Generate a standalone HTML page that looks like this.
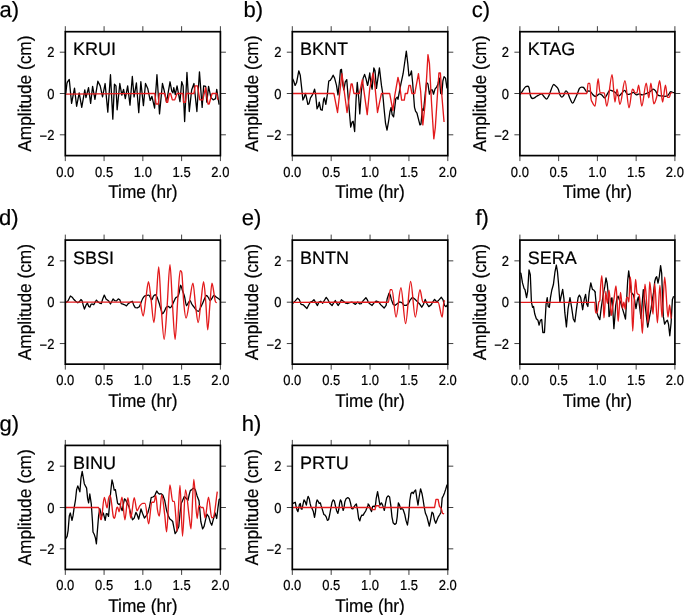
<!DOCTYPE html><html><head><meta charset="utf-8"><style>html,body{margin:0;padding:0;background:#fff;}svg{display:block;will-change:transform;}text{font-family:"Liberation Sans",sans-serif;fill:#000;text-rendering:geometricPrecision;stroke:#000;stroke-width:0.2px;}</style></head><body>
<svg width="685" height="615" viewBox="0 0 685 615">
<g><rect width="685" height="615" fill="#fff"/>
<g><clipPath id="ca"><rect x="65.3" y="31.7" width="155.1" height="123.9"/></clipPath><path clip-path="url(#ca)" d="M65.75 93.45 L66.92 83.52 L67.5 81.77 L69.26 79.43 L71.59 103.38 L74.51 88.19 L76.61 106.3 L79.18 92.87 L81.75 107.46 L84.79 89.95 L85.96 97.54 L88.53 87.61 L90.63 103.38 L92.61 86.44 L94.95 99.29 L97.87 81.19 L100.2 85.86 L102.54 96.95 L105.11 83.52 L107.8 112.14 L110.48 74.76 L112.82 119.14 L114.45 84.11 L115.97 85.86 L117.14 109.8 L119.82 83.52 L121.81 95.2 L123.56 89.36 L125.31 98.7 L127.65 85.86 L129.99 105.13 L132.32 76.52 L134.07 96.95 L136.41 82.94 L138.74 112.72 L140.85 81.77 L143.42 105.71 L145.5 83.52 L147.84 88.78 L150.18 100.46 L151.93 96.37 L154.61 108.05 L156.95 74.76 L159.52 113.89 L162.44 83.52 L164.19 90.53 L166.53 102.21 L170.03 81.77 L171.78 91.11 L172.95 92.87 L173.77 87.61 L175.28 94.62 L177.04 85.86 L178.44 93.45 L179.96 101.62 L181.71 81.77 L183.11 85.86 L184.63 121.48 L186.96 72.43 L189.3 111.55 L191.64 89.95 L193.97 83.52 L196.89 111.55 L199.46 71.84 L202.15 107.46 L203.66 85.86 L205.65 86.44 L206.82 102.21 L208.57 86.44 L210.91 97.54 L213.24 99.87 L215.58 98.7 L216.74 89.36 L219.08 104.54" fill="none" stroke="#000" stroke-width="1.3" stroke-linejoin="round"/><path clip-path="url(#ca)" d="M65.2 94.14 L154.85 93.45 L156.01 103.96 L158.35 103.96 L159.28 93.45 L164.77 93.45 L166.53 102.21 L167.69 102.21 L169.45 93.45 L170.61 93.45 L172.36 99.87 L174.7 99.87 L177.04 93.45 L182.88 93.45 L183.46 102.21 L185.45 102.21 L186.38 93.45 L193.97 93.45 L195.14 85.86 L197.47 85.86 L199.81 99.87 L202.73 99.87 L205.65 87.61 L207.99 103.96 L209.15 103.96 L212.07 93.45 L216.74 93.45 L217.91 99.87" fill="none" stroke="#e31a1c" stroke-width="1.35" stroke-linejoin="round"/><path d="M65.3 31.7V26.2M65.3 155.6V161.1M104.08 31.7V26.2M104.08 155.6V161.1M142.85 31.7V26.2M142.85 155.6V161.1M181.62 31.7V26.2M181.62 155.6V161.1M220.4 31.7V26.2M220.4 155.6V161.1M65.3 134.8H59.8M220.4 134.8H225.9M65.3 93.5H59.8M220.4 93.5H225.9M65.3 52.2H59.8M220.4 52.2H225.9" stroke="#000" stroke-width="0.75" fill="none"/><rect x="65.3" y="31.7" width="155.1" height="123.9" fill="none" stroke="#000" stroke-width="1.7"/><text transform="translate(65.30 176.65) scale(1.000 1.110)" font-size="13.0" text-anchor="middle">0.0</text><text transform="translate(104.08 176.65) scale(1.000 1.110)" font-size="13.0" text-anchor="middle">0.5</text><text transform="translate(142.85 176.65) scale(1.000 1.110)" font-size="13.0" text-anchor="middle">1.0</text><text transform="translate(181.62 176.65) scale(1.000 1.110)" font-size="13.0" text-anchor="middle">1.5</text><text transform="translate(220.40 176.65) scale(1.000 1.110)" font-size="13.0" text-anchor="middle">2.0</text><text transform="translate(54.45 57.20) scale(1.000 1.110)" font-size="13.0" text-anchor="end">2</text><text transform="translate(54.45 98.50) scale(1.000 1.110)" font-size="13.0" text-anchor="end">0</text><text transform="translate(54.45 139.80) scale(1.000 1.110)" font-size="13.0" text-anchor="end"><tspan dy="1.1">−</tspan><tspan dy="-1.1">2</tspan></text><text transform="translate(142.85 198.05) scale(1.000 1.070)" font-size="17.3" text-anchor="middle">Time (hr)</text><text transform="translate(30.90 93.65) rotate(-90) scale(1.000 1.070)" font-size="17.3" text-anchor="middle">Amplitude (cm)</text><text x="73.1" y="55.2" font-size="18.0">KRUI</text><text x="-0.5" y="16.6" font-size="22">a)</text></g>
<g><clipPath id="cb"><rect x="292.3" y="31.7" width="155.5" height="123.9"/></clipPath><path clip-path="url(#cb)" d="M292.63 78.85 L293.66 81.04 L295.12 85.43 L296.58 82.51 L298.78 70.81 L300.24 75.19 L301.7 88.36 L302.87 100.06 L304.33 97.13 L305.36 93.47 L306.38 97.13 L307.84 104.44 L309.01 103.71 L310.48 97.86 L311.94 95.67 L313.4 92.74 L314.57 89.09 L315.59 94.21 L317.06 108.83 L318.52 105.91 L319.25 102.25 L320.71 109.56 L322.18 110.29 L323.64 99.32 L324.37 97.86 L325.83 104.44 L327.29 94.94 L328.76 81.04 L330.22 80.31 L331.68 78.12 L333.14 75.19 L334.61 78.12 L336.51 85.43 L337.97 94.94 L339.43 81.77 L340.46 70.07 L341.48 69.34 L342.94 85.43 L343.82 89.82 L345.28 81.77 L346.75 79.58 L348.5 101.52 L350.69 127.11 L352.16 121.99 L353.18 121.26 L354.64 131.5 L356.11 98.59 L357.28 82.51 L358.74 98.59 L359.76 113.95 L361.37 91.28 L363.13 78.12 L364.59 74.46 L366.05 78.85 L367.51 85.43 L368 83.97 L369.76 73 L370.93 83.97 L372.1 89.09 L373.85 67.88 L375.02 70.81 L376.48 88.36 L379.41 67.88 L381.46 85.43 L382.63 92.74 L384.09 108.83 L385.55 123.46 L387.01 130.04 L388.48 121.99 L389.94 111.76 L391.11 107.37 L392.13 114.68 L393.59 116.87 L395.79 98.59 L397.25 97.13 L397.98 99.32 L399.44 91.28 L400.91 83.97 L403.1 73.73 L404.56 63.49 L406.32 51.06 L407.78 63.49 L408.95 75.92 L410.41 74.46 L411.44 70.81 L412.61 82.51 L414.51 107.37 L415.53 111.02 L416.99 113.22 L418.46 119.07 L419.92 124.92 L420.94 124.19 L422.41 108.83 L423.58 110.29 L425.33 92.74 L426.5 82.51 L427.96 83.97 L429.43 94.21 L430.89 89.82 L432.35 89.82 L433.52 94.21 L434.98 89.09 L436.74 86.89 L437.91 83.97 L439.37 78.12 L440.69 93.47 L441.86 94.21 L442.88 81.04 L444.05 76.66 L445.51 78.12 L446.98 88.36" fill="none" stroke="#000" stroke-width="1.3" stroke-linejoin="round"/><path clip-path="url(#cb)" d="M291.46 93.47 L333.88 93.47 L337.53 112.49 L341.92 73.73 L347.04 112.49 L351.13 83.97 L352.16 83.97 L353.91 93.47 L359.47 93.47 L362.39 79.58 L367.22 114.68 L369.76 88.36 L373.12 73 L375.02 86.89 L377.51 112.49 L379.7 101.52 L381.46 93.47 L389.65 93.47 L392.86 110.29 L394.76 95.67 L397.98 77.39 L399.44 83.97 L401.64 100.06 L404.27 100.06 L405.29 93.47 L407.49 93.47 L408.95 85.43 L410.41 85.43 L411.88 93.47 L414.8 93.47 L418.46 73.73 L420.65 91.28 L422.84 124.92 L425.04 104.44 L427.96 54.72 L429.43 63.49 L431.62 104.44 L433.81 138.81 L435.28 127.84 L437.47 94.21 L438.93 73 L440.39 73 L441.86 95.67 L444.05 121.99" fill="none" stroke="#e31a1c" stroke-width="1.35" stroke-linejoin="round"/><path d="M292.3 31.7V26.2M292.3 155.6V161.1M331.18 31.7V26.2M331.18 155.6V161.1M370.05 31.7V26.2M370.05 155.6V161.1M408.93 31.7V26.2M408.93 155.6V161.1M447.8 31.7V26.2M447.8 155.6V161.1M292.3 134.8H286.8M447.8 134.8H453.3M292.3 93.5H286.8M447.8 93.5H453.3M292.3 52.2H286.8M447.8 52.2H453.3" stroke="#000" stroke-width="0.75" fill="none"/><rect x="292.3" y="31.7" width="155.5" height="123.9" fill="none" stroke="#000" stroke-width="1.7"/><text transform="translate(292.30 176.65) scale(1.000 1.110)" font-size="13.0" text-anchor="middle">0.0</text><text transform="translate(331.18 176.65) scale(1.000 1.110)" font-size="13.0" text-anchor="middle">0.5</text><text transform="translate(370.05 176.65) scale(1.000 1.110)" font-size="13.0" text-anchor="middle">1.0</text><text transform="translate(408.93 176.65) scale(1.000 1.110)" font-size="13.0" text-anchor="middle">1.5</text><text transform="translate(447.80 176.65) scale(1.000 1.110)" font-size="13.0" text-anchor="middle">2.0</text><text transform="translate(281.45 57.20) scale(1.000 1.110)" font-size="13.0" text-anchor="end">2</text><text transform="translate(281.45 98.50) scale(1.000 1.110)" font-size="13.0" text-anchor="end">0</text><text transform="translate(281.45 139.80) scale(1.000 1.110)" font-size="13.0" text-anchor="end"><tspan dy="1.1">−</tspan><tspan dy="-1.1">2</tspan></text><text transform="translate(370.05 198.05) scale(1.000 1.070)" font-size="17.3" text-anchor="middle">Time (hr)</text><text transform="translate(257.90 93.65) rotate(-90) scale(1.000 1.070)" font-size="17.3" text-anchor="middle">Amplitude (cm)</text><text x="300.1" y="55.2" font-size="18.0">BKNT</text><text x="243.5" y="16.6" font-size="22">b)</text></g>
<g><clipPath id="cc"><rect x="519.9" y="31.7" width="155" height="123.9"/></clipPath><path clip-path="url(#cc)" d="M519.75 94.43C520.02 94.24 520.3 94.15 520.57 93.85C521.46 92.85 522.36 91 523.26 89.76C524.03 88.68 524.81 87.43 525.59 86.84C526.37 86.26 527.15 86.26 527.93 86.26C528.32 86.26 528.71 86.55 529.09 88.01C529.48 89.47 529.87 93.56 530.26 95.02C531.04 97.94 531.82 98.52 532.6 98.52C533.18 98.52 533.77 98.25 534.35 97.94C535.13 97.52 535.91 96.67 536.69 96.18C537.46 95.7 538.24 95.41 539.02 95.02C539.8 94.63 540.58 93.85 541.36 93.85C542.14 93.85 542.91 95.41 543.69 96.18C544.67 97.16 545.64 99.1 546.61 99.1C547.39 99.1 548.17 97.26 548.95 95.6C549.73 93.95 550.51 91.03 551.28 89.18C552.06 87.33 552.84 84.51 553.62 84.51C554.4 84.51 555.18 85.48 555.96 86.26C556.73 87.04 557.51 87.39 558.29 89.18C558.88 90.52 559.46 93.69 560.04 95.02C560.63 96.34 561.21 97.12 561.8 97.12C562.38 97.12 562.96 96.44 563.55 95.6C564.33 94.49 565.1 90.93 565.88 90.93C566.47 90.93 567.05 91.66 567.64 92.68C568.41 94.04 569.19 96.87 569.97 98.52C570.87 100.42 571.76 103.19 572.66 103.19C573.51 103.19 574.37 100.26 575.23 98.52C576 96.94 576.78 95.18 577.56 93.27C578.15 91.83 578.73 89.56 579.31 88.59C580.09 87.3 580.87 87.08 581.65 87.08C582.23 87.08 582.82 87.08 583.4 87.43C583.99 87.78 584.57 88.98 585.15 89.76C585.74 90.54 586.32 92.1 586.91 92.1C587.49 92.1 588.07 90.93 588.66 90.93C589.24 90.93 589.82 91.05 590.41 91.51C591.19 92.13 591.97 93.62 592.74 94.43C593.52 95.25 594.3 96.42 595.08 96.42C595.78 96.42 596.47 96 597.17 95.6C597.95 95.16 598.73 93.85 599.5 93.85C600.28 93.85 601.06 94.43 601.84 95.02C602.81 95.75 603.79 97.94 604.76 97.94C605.73 97.94 606.71 94.7 607.68 93.27C608.46 92.12 609.24 90.11 610.01 90.11C610.79 90.11 611.57 90.59 612.35 90.93C613.32 91.35 614.3 91.68 615.27 92.45C616.44 93.37 617.61 96.18 618.77 96.18C619.75 96.18 620.72 94.24 621.69 93.27C622.67 92.29 623.64 90.35 624.61 90.35C625.59 90.35 626.56 94.43 627.53 94.43C628.51 94.43 629.48 94.18 630.45 93.85C631.43 93.52 632.4 92.45 633.37 92.45C634.35 92.45 635.32 94.78 636.29 94.78C637.27 94.78 638.24 93.85 639.21 93.85C640.18 93.85 641.16 94.78 642.13 94.78C643.1 94.78 644.08 94.16 645.05 93.85C646.02 93.54 647 93.4 647.97 92.91C648.94 92.43 649.92 91.63 650.89 90.93C651.67 90.37 652.45 89.18 653.23 89.18C654 89.18 654.78 89.96 655.56 90.93C656.34 91.9 657.12 94.39 657.9 95.02C659.07 95.95 660.23 95.72 661.4 95.95C662.57 96.18 663.74 96.42 664.91 96.42C665.88 96.42 666.85 96.38 667.82 95.6C668.8 94.82 669.77 91.75 670.74 91.75C671.72 91.75 672.69 92.49 673.66 92.68C674.64 92.88 675.61 92.84 676.58 92.91" fill="none" stroke="#000" stroke-width="1.3" stroke-linejoin="round"/><path clip-path="url(#cc)" d="M519.75 93.5C542.14 93.5 564.52 93.5 586.91 93.5C587.29 93.5 587.68 83.34 588.07 83.34C588.66 83.34 589.24 83.34 589.82 83.34C590.21 83.34 590.6 95.41 590.99 98.52C591.38 101.64 591.77 101.17 592.16 102.02C593.13 104.17 594.11 106.11 595.08 106.11C596.09 106.11 597.09 78.67 598.1 78.67C598.76 78.67 599.43 92.91 600.09 92.91C601.45 92.91 602.81 92.91 604.18 92.91C605.03 92.91 605.89 106.11 606.74 106.11C608.54 106.11 610.33 74.58 612.12 74.58C613.05 74.58 613.99 102.02 614.92 102.02C615.62 102.02 616.32 89.18 617.02 89.18C618 89.18 618.97 104.36 619.94 104.36C621.62 104.36 623.29 80.77 624.96 80.77C626.33 80.77 627.69 107.86 629.05 107.86C630.18 107.86 631.31 89.18 632.44 89.18C632.75 89.18 633.06 89.38 633.37 89.76C633.96 90.47 634.54 92.91 635.12 92.91C635.71 92.91 636.29 92.91 636.88 92.91C637.46 92.91 638.04 85.09 638.63 85.09C639.68 85.09 640.73 106.11 641.78 106.11C643.26 106.11 644.74 83.1 646.22 83.1C647.08 83.1 647.93 97.94 648.79 97.94C649.49 97.94 650.19 83.1 650.89 83.1C651.86 83.1 652.84 103.78 653.81 103.78C654.78 103.78 655.76 100.6 656.73 96.77C657.7 92.93 658.68 80.77 659.65 80.77C660.62 80.77 661.6 102.02 662.57 102.02C663.54 102.02 664.52 85.09 665.49 85.09C666.15 85.09 666.81 97.35 667.47 97.35C668.1 97.35 668.72 97.35 669.34 97.35C669.81 97.35 670.28 92.91 670.74 92.91C671.33 92.91 671.91 92.91 672.5 92.91" fill="none" stroke="#e31a1c" stroke-width="1.35" stroke-linejoin="round"/><path d="M519.9 31.7V26.2M519.9 155.6V161.1M558.65 31.7V26.2M558.65 155.6V161.1M597.4 31.7V26.2M597.4 155.6V161.1M636.15 31.7V26.2M636.15 155.6V161.1M674.9 31.7V26.2M674.9 155.6V161.1M519.9 134.8H514.4M674.9 134.8H680.4M519.9 93.5H514.4M674.9 93.5H680.4M519.9 52.2H514.4M674.9 52.2H680.4" stroke="#000" stroke-width="0.75" fill="none"/><rect x="519.9" y="31.7" width="155" height="123.9" fill="none" stroke="#000" stroke-width="1.7"/><text transform="translate(519.90 176.65) scale(1.000 1.110)" font-size="13.0" text-anchor="middle">0.0</text><text transform="translate(558.65 176.65) scale(1.000 1.110)" font-size="13.0" text-anchor="middle">0.5</text><text transform="translate(597.40 176.65) scale(1.000 1.110)" font-size="13.0" text-anchor="middle">1.0</text><text transform="translate(636.15 176.65) scale(1.000 1.110)" font-size="13.0" text-anchor="middle">1.5</text><text transform="translate(674.90 176.65) scale(1.000 1.110)" font-size="13.0" text-anchor="middle">2.0</text><text transform="translate(509.05 57.20) scale(1.000 1.110)" font-size="13.0" text-anchor="end">2</text><text transform="translate(509.05 98.50) scale(1.000 1.110)" font-size="13.0" text-anchor="end">0</text><text transform="translate(509.05 139.80) scale(1.000 1.110)" font-size="13.0" text-anchor="end"><tspan dy="1.1">−</tspan><tspan dy="-1.1">2</tspan></text><text transform="translate(597.40 198.05) scale(1.000 1.070)" font-size="17.3" text-anchor="middle">Time (hr)</text><text transform="translate(485.50 93.65) rotate(-90) scale(1.000 1.070)" font-size="17.3" text-anchor="middle">Amplitude (cm)</text><text x="527.7" y="55.2" font-size="18.0">KTAG</text><text x="471.8" y="16.6" font-size="22">c)</text></g>
<g><clipPath id="cd"><rect x="65.3" y="240.1" width="155.1" height="124.05"/></clipPath><path clip-path="url(#cd)" d="M65.4 302.44L66.1 302.44L68.09 300.69L70.42 296.01L72.18 297.18L73.93 299.52L75.68 301.27L77.78 302.79L79.18 301.85L80.93 299.52L82.1 300.69L83.27 305.36L84.44 309.09L86.19 304.77L87.36 303.02L88.76 306.53L89.93 307.11L91.09 304.19L92.61 304.19L93.78 304.77L94.95 302.44L96.47 300.1L97.87 301.85L99.62 303.02L101.37 303.61L102.54 299.52L104.29 295.08L106.04 298.93L108.38 300.69L110.48 303.96L111.88 301.27L113.05 298.93L114.8 300.69L116.55 300.92L118.31 298.93L119.82 299.75L121.23 303.61L122.98 304.19L124.73 304.77L126.48 305.94L128.23 303.61L129.99 302.44L132.32 301.27L133.84 305.36L135.24 307.69L137.34 307.93L139.33 306.76L141.08 302.44C141.55 301.28 142.01 299.85 142.48 298.93C143.12 297.69 143.75 296.78 144.39 296.22C145.12 295.58 145.85 295.66 146.58 295.49C147.31 295.32 148.04 295.2 148.78 295.2C149.36 295.2 149.95 296.72 150.53 297.68C150.92 298.32 151.31 299.88 151.7 299.88C152.29 299.88 152.87 297.05 153.46 296.22C154.09 295.32 154.72 294.76 155.36 294.76C155.99 294.76 156.62 296.27 157.26 297.68C157.84 298.99 158.43 300.97 159.01 302.8C159.6 304.63 160.18 306.89 160.77 308.65C161.4 310.56 162.04 313.77 162.67 313.77C163.3 313.77 163.94 311.99 164.57 310.84C165.16 309.79 165.74 307.77 166.33 307.19C167.06 306.46 167.79 306.46 168.52 306.46C169.01 306.46 169.49 307.92 169.98 307.92C170.62 307.92 171.25 306.75 171.88 305.73C172.47 304.78 173.05 303.26 173.64 302.07C174.37 300.58 175.1 298.66 175.83 297.68C176.56 296.71 177.29 297.61 178.03 296.22C178.42 295.48 178.81 294.15 179.2 292.56C179.68 290.58 180.17 285.25 180.66 285.25C181.24 285.25 181.83 288.64 182.41 290.37C183.14 292.53 183.88 294.17 184.61 296.95C185.24 299.36 185.87 305.73 186.51 305.73C187.09 305.73 187.68 303.65 188.26 302.8C188.85 301.95 189.43 300.61 190.02 300.61C190.65 300.61 191.29 303.23 191.92 304.26C192.65 305.45 193.38 306.21 194.11 307.19C194.84 308.16 195.58 309.43 196.31 310.11C197.04 310.8 197.77 311.28 198.5 311.28C199.23 311.28 199.96 308.6 200.69 307.19C201.43 305.77 202.16 304.45 202.89 302.8C203.38 301.7 203.86 300.16 204.35 299.14C205.08 297.62 205.81 295.49 206.54 295.49C207.18 295.49 207.81 296.79 208.45 297.68C209.03 298.51 209.62 300.61 210.2 300.61C210.79 300.61 211.37 299.23 211.96 298.41C212.59 297.53 213.22 295.49 213.86 295.49C214.59 295.49 215.32 296.46 216.05 296.95C216.78 297.44 217.51 297.86 218.24 298.41C218.83 298.85 219.41 299.39 220 299.88" fill="none" stroke="#000" stroke-width="1.3" stroke-linejoin="round"/><path clip-path="url(#cd)" d="M65.4 302.09C90.43 302.09 115.46 302.09 140.5 302.09C140.57 302.09 140.65 303.72 140.73 304.26C141.56 310.05 142.39 315.96 143.22 315.96C144.1 315.96 144.97 304.14 145.85 298.41C146.73 292.68 147.61 281.59 148.48 281.59C149.31 281.59 150.14 292.19 150.97 298.41C151.94 305.73 152.92 322.54 153.89 322.54C154.72 322.54 155.55 306.53 156.38 296.95C157.16 287.94 157.94 266.97 158.72 266.97C159.55 266.97 160.38 295.93 161.21 307.19C162.18 320.44 163.16 339.36 164.13 339.36C165.11 339.36 166.08 319.62 167.06 307.19C168.03 294.76 169.01 264.78 169.98 264.78C170.81 264.78 171.64 292.16 172.47 304.26C173.35 317.08 174.22 339.36 175.1 339.36C175.98 339.36 176.86 311.62 177.73 299.88C178.56 288.78 179.39 270.63 180.22 270.63C180.71 270.63 181.19 270.63 181.68 272.09C182.41 274.28 183.14 296.59 183.88 304.26C184.61 311.94 185.34 318.16 186.07 318.16C187.29 318.16 188.51 306.11 189.73 299.88C190.8 294.39 191.87 283.06 192.94 283.06C193.82 283.06 194.7 299.14 195.58 305.73C196.45 312.31 197.33 322.54 198.21 322.54C199.18 322.54 200.16 307.24 201.13 299.88C201.96 293.62 202.79 281.59 203.62 281.59C204.35 281.59 205.08 294.06 205.81 302.8C206.45 310.37 207.08 329.86 207.71 329.86C208.45 329.86 209.18 312.32 209.91 304.26C210.59 296.75 211.27 283.06 211.96 283.06C212.59 283.06 213.22 289.08 213.86 292.56C214.34 295.24 214.83 299.88 215.32 301.34C215.81 302.8 216.29 302.31 216.78 302.8" fill="none" stroke="#e31a1c" stroke-width="1.35" stroke-linejoin="round"/><path d="M65.3 240.1V234.6M65.3 364.15V369.65M104.08 240.1V234.6M104.08 364.15V369.65M142.85 240.1V234.6M142.85 364.15V369.65M181.62 240.1V234.6M181.62 364.15V369.65M220.4 240.1V234.6M220.4 364.15V369.65M65.3 343.55H59.8M220.4 343.55H225.9M65.3 302.2H59.8M220.4 302.2H225.9M65.3 260.85H59.8M220.4 260.85H225.9" stroke="#000" stroke-width="0.75" fill="none"/><rect x="65.3" y="240.1" width="155.1" height="124.05" fill="none" stroke="#000" stroke-width="1.7"/><text transform="translate(65.30 385.20) scale(1.000 1.110)" font-size="13.0" text-anchor="middle">0.0</text><text transform="translate(104.08 385.20) scale(1.000 1.110)" font-size="13.0" text-anchor="middle">0.5</text><text transform="translate(142.85 385.20) scale(1.000 1.110)" font-size="13.0" text-anchor="middle">1.0</text><text transform="translate(181.62 385.20) scale(1.000 1.110)" font-size="13.0" text-anchor="middle">1.5</text><text transform="translate(220.40 385.20) scale(1.000 1.110)" font-size="13.0" text-anchor="middle">2.0</text><text transform="translate(54.45 265.85) scale(1.000 1.110)" font-size="13.0" text-anchor="end">2</text><text transform="translate(54.45 307.20) scale(1.000 1.110)" font-size="13.0" text-anchor="end">0</text><text transform="translate(54.45 348.55) scale(1.000 1.110)" font-size="13.0" text-anchor="end"><tspan dy="1.1">−</tspan><tspan dy="-1.1">2</tspan></text><text transform="translate(142.85 406.60) scale(1.000 1.070)" font-size="17.3" text-anchor="middle">Time (hr)</text><text transform="translate(30.90 302.12) rotate(-90) scale(1.000 1.070)" font-size="17.3" text-anchor="middle">Amplitude (cm)</text><text x="73.1" y="263.6" font-size="18.0">SBSI</text><text x="-0.9" y="225.3" font-size="22">d)</text></g>
<g><clipPath id="ce"><rect x="292.3" y="240.1" width="155.5" height="124.05"/></clipPath><path clip-path="url(#ce)" d="M292.34 303.2 L292.92 303.2 L295.26 300.87 L297.59 298.18 L299.34 299.7 L301.09 304.37 L303.43 304.96 L305.18 306.71 L306.93 308.46 L308.69 304.96 L310.44 302.04 L312.19 301.45 L313.94 299.7 L315.69 302.62 L317.45 305.54 L318.96 302.04 L320.6 301.22 L322.7 303.2 L324.45 300.28 L326.2 297.36 L327.96 299.7 L329.71 303.2 L332.04 305.54 L333.8 302.62 L335.31 300.52 L336.72 303.2 L338.12 305.54 L339.64 303.2 L341.39 299.7 L343.72 301.45 L345.82 303.2 L347.81 303.55 L349.56 302.62 L351.9 302.04 L353.65 303.2 L355.4 304.37 L357.74 302.04 L359.49 303.79 L361.24 303.55 L362.99 300.87 L365.91 297.71 L367.66 300.28 L368 301.96 L369.75 303.71 L372.09 305.47 L373.84 303.13 L376.18 301.03 L378.51 301.96 L380.85 304.88 L384.12 308.04 L386.1 305.47 L387.27 298.46 L389.02 293.2 L390.19 294.96 L391.36 299.63 L393.11 304.3 L394.86 305.47 L397.2 303.71 L399.53 301.96 L401.87 302.55 L404.2 305.47 L406.54 305.23 L408.29 303.71 L410.04 300.21 L412.38 297.29 L414.72 299.04 L417.05 301.38 L419.39 303.71 L421.72 307.22 L423.47 304.3 L425.23 299.39 L426.98 303.71 L428.73 306.63 L431.07 304.88 L432.82 301.96 L434.57 299.39 L436.91 301.96 L439.24 299.63 L441.34 297.29 L442.98 299.63 L444.5 305.47 L446.01 306.63 L447.42 304.88" fill="none" stroke="#000" stroke-width="1.3" stroke-linejoin="round"/><path clip-path="url(#ce)" d="M292.3 302.33C324.35 302.29 356.39 302.33 388.44 302.2C389.02 302.19 389.61 289.7 390.19 289.7C390.77 289.7 391.36 289.7 391.94 289.7C393.3 289.7 394.67 317.15 396.03 317.15C397.66 317.15 399.3 287.71 400.93 287.71C402.49 287.71 404.05 323.57 405.61 323.57C407.28 323.57 408.95 281.52 410.63 281.52C412.18 281.52 413.74 317.15 415.3 317.15C416.86 317.15 418.41 289.7 419.97 289.7C420.94 289.7 421.92 302.2 422.89 302.2C427.95 302.2 433.01 302.2 438.07 302.2C439.44 302.2 440.8 317.15 442.16 317.15C442.82 317.15 443.48 300.79 444.15 300.79C444.3 300.79 444.46 301.42 444.61 301.73" fill="none" stroke="#e31a1c" stroke-width="1.35" stroke-linejoin="round"/><path d="M292.3 240.1V234.6M292.3 364.15V369.65M331.18 240.1V234.6M331.18 364.15V369.65M370.05 240.1V234.6M370.05 364.15V369.65M408.93 240.1V234.6M408.93 364.15V369.65M447.8 240.1V234.6M447.8 364.15V369.65M292.3 343.55H286.8M447.8 343.55H453.3M292.3 302.2H286.8M447.8 302.2H453.3M292.3 260.85H286.8M447.8 260.85H453.3" stroke="#000" stroke-width="0.75" fill="none"/><rect x="292.3" y="240.1" width="155.5" height="124.05" fill="none" stroke="#000" stroke-width="1.7"/><text transform="translate(292.30 385.20) scale(1.000 1.110)" font-size="13.0" text-anchor="middle">0.0</text><text transform="translate(331.18 385.20) scale(1.000 1.110)" font-size="13.0" text-anchor="middle">0.5</text><text transform="translate(370.05 385.20) scale(1.000 1.110)" font-size="13.0" text-anchor="middle">1.0</text><text transform="translate(408.93 385.20) scale(1.000 1.110)" font-size="13.0" text-anchor="middle">1.5</text><text transform="translate(447.80 385.20) scale(1.000 1.110)" font-size="13.0" text-anchor="middle">2.0</text><text transform="translate(281.45 265.85) scale(1.000 1.110)" font-size="13.0" text-anchor="end">2</text><text transform="translate(281.45 307.20) scale(1.000 1.110)" font-size="13.0" text-anchor="end">0</text><text transform="translate(281.45 348.55) scale(1.000 1.110)" font-size="13.0" text-anchor="end"><tspan dy="1.1">−</tspan><tspan dy="-1.1">2</tspan></text><text transform="translate(370.05 406.60) scale(1.000 1.070)" font-size="17.3" text-anchor="middle">Time (hr)</text><text transform="translate(257.90 302.12) rotate(-90) scale(1.000 1.070)" font-size="17.3" text-anchor="middle">Amplitude (cm)</text><text x="300.1" y="263.6" font-size="18.0">BNTN</text><text x="241.8" y="225.3" font-size="22">e)</text></g>
<g><clipPath id="cf"><rect x="519.9" y="240.1" width="155" height="124.05"/></clipPath><path clip-path="url(#cf)" d="M519.58 273.16 L520.88 273.16 L522.5 282.92 L524.13 288.61 L524.94 289.42 L526.57 297.55 L527.71 291.05 L529.01 269.91 L530.31 274.79 L531.45 302.43 L532.59 307.31 L533.56 306.5 L534.7 313.81 L536.33 318.69 L537.95 320.32 L539.09 325.2 L540.39 320.32 L541.69 319.51 L542.83 332.51 L544.46 332.51 L546.08 304.06 L547.22 297.55 L548.2 306.5 L549.33 307.31 L550.47 297.55 L551.77 290.24 L553.4 284.55 L555.02 271.54 L556.33 265.03 L557.46 271.54 L558.6 284.55 L559.9 302.43 L561.2 295.93 L562.67 289.42 L563.97 299.18 L564.78 312.19 L566.41 326.82 L568.03 308.94 L569.98 297.55 L571.61 307.31 L573.24 318.69 L574.86 321.94 L576.49 308.94 L578.11 297.55 L579.41 295.12 L580.72 297.55 L582.67 309.75 L584.29 299.18 L585.59 294.3 L586.73 304.06 L587.87 306.5 L589.17 292.68 L590.8 282.92 L592.42 289.42 L594.05 290.24 L595.35 292.68 L595 291.3 L597 312.9 L598.2 316.6 L599.8 319.6 L601.2 308.1 L603 296.1 L604.8 286.4 L606 278 L607.2 283.4 L608.2 293.7 L609 316.6 L609.9 315.4 L611.1 298.5 L612 297.9 L613 312.9 L613.9 328.6 L614.7 319 L615.7 305.7 L616.9 298.5 L618.1 296.1 L619.3 299.7 L620.5 302.1 L622.3 308.1 L624.1 314.1 L625.5 319 L626.5 302.1 L627.7 280.4 L628.7 270.8 L629.9 280.4 L631.3 292.5 L633.3 294.7 L634.4 298.8 L636 308.6 L637.4 299.8 L638.4 296.9 L641 318.4 L643.3 289.6 L647.7 327.1 L649.6 316.4 L650.9 309.9 L652.6 298.1 L653.5 292.9 L654.8 281.2 L655.7 278 L656.7 276.7 L658 283.2 L659.3 276.7 L660.6 265.6 L661.7 273.4 L662.6 299.4 L663.3 316.4 L664.6 324.1 L666.1 321.5 L667.4 320.2 L668.5 324.1 L669.8 335.8 L671.1 322.8 L672.4 299.4 L673.4 296.8 L675 296.4" fill="none" stroke="#000" stroke-width="1.3" stroke-linejoin="round"/><path clip-path="url(#cf)" d="M519.9 302.4C544.9 302.4 569.9 302.4 594.9 302.4C595 302.4 595.1 306.75 595.2 308.1C595.4 310.8 595.6 312.9 595.8 312.9C596.2 312.9 596.6 312.9 597 312.9C597.6 312.9 598.2 304.26 598.8 302.1C599.13 300.9 599.47 302.1 599.8 300.9C600.07 299.94 600.33 290.11 600.6 286.5C601 281.08 601.4 275.6 601.8 275.6C602.2 275.6 602.6 284.06 603 292.5C603.3 298.83 603.6 317.8 603.9 317.8C604.2 317.8 604.5 312.24 604.8 308.1C605.13 303.5 605.47 291.3 605.8 291.3C606.07 291.3 606.33 296.59 606.6 298.5C606.9 300.65 607.2 303.3 607.5 303.3C608 303.3 608.5 290.1 609 290.1C609.4 290.1 609.8 297.88 610.2 302.1C610.6 306.32 611 315.4 611.4 315.4C611.83 315.4 612.27 309.7 612.7 306.9C613.2 303.67 613.7 300.48 614.2 297.3C614.8 293.48 615.4 285.9 616 285.9C616.37 285.9 616.73 294.64 617.1 300.9C617.43 306.59 617.77 321.4 618.1 321.4C618.5 321.4 618.9 312.92 619.3 308.1C619.7 303.28 620.1 292.5 620.5 292.5C620.9 292.5 621.3 299.17 621.7 302.1C622 304.3 622.3 308.1 622.6 308.1C623 308.1 623.4 302.1 623.8 302.1C624.3 302.1 624.8 309.3 625.3 309.3C625.7 309.3 626.1 297.3 626.5 297.3C626.9 297.3 627.3 297.3 627.7 297.3C628.1 297.3 628.5 302.1 628.9 302.1C629.3 302.1 629.7 276.8 630.1 276.8C630.5 276.8 630.9 279.7 631.3 287.7C631.77 297.04 632.23 331 632.7 331C633.17 331 633.63 311.82 634.1 303.5C634.6 294.59 635.1 279.5 635.6 279.5C636 279.5 636.4 289.4 636.8 291.8C637.2 294.2 637.6 293.71 638 294.2C638.37 294.65 638.73 294.2 639.1 294.7C639.7 295.52 640.3 305.77 640.9 312.9C641.4 318.84 641.9 333.4 642.4 333.4C642.87 333.4 643.33 312.24 643.8 303.5C644.2 296.01 644.6 284.2 645 284.2C645.57 284.2 646.13 295.58 646.7 303.5C647.1 309.09 647.5 323.4 647.9 323.4C648.5 323.4 649.1 281.9 649.7 281.9C650.27 281.9 650.83 292.16 651.4 297.7C651.93 302.91 652.47 314.1 653 314.1C653.57 314.1 654.13 283.6 654.7 283.6C655.6 283.6 656.5 322.8 657.4 322.8C658.23 322.8 659.07 285.4 659.9 285.4C660.6 285.4 661.3 317.1 662 317.1C662.9 317.1 663.8 277.2 664.7 277.2C665.8 277.2 666.9 317.1 668 317.1C668.53 317.1 669.07 304.9 669.6 304.9C670.13 304.9 670.67 314.1 671.2 318.7" fill="none" stroke="#e31a1c" stroke-width="1.35" stroke-linejoin="round"/><path d="M519.9 240.1V234.6M519.9 364.15V369.65M558.65 240.1V234.6M558.65 364.15V369.65M597.4 240.1V234.6M597.4 364.15V369.65M636.15 240.1V234.6M636.15 364.15V369.65M674.9 240.1V234.6M674.9 364.15V369.65M519.9 343.55H514.4M674.9 343.55H680.4M519.9 302.2H514.4M674.9 302.2H680.4M519.9 260.85H514.4M674.9 260.85H680.4" stroke="#000" stroke-width="0.75" fill="none"/><rect x="519.9" y="240.1" width="155" height="124.05" fill="none" stroke="#000" stroke-width="1.7"/><text transform="translate(519.90 385.20) scale(1.000 1.110)" font-size="13.0" text-anchor="middle">0.0</text><text transform="translate(558.65 385.20) scale(1.000 1.110)" font-size="13.0" text-anchor="middle">0.5</text><text transform="translate(597.40 385.20) scale(1.000 1.110)" font-size="13.0" text-anchor="middle">1.0</text><text transform="translate(636.15 385.20) scale(1.000 1.110)" font-size="13.0" text-anchor="middle">1.5</text><text transform="translate(674.90 385.20) scale(1.000 1.110)" font-size="13.0" text-anchor="middle">2.0</text><text transform="translate(509.05 265.85) scale(1.000 1.110)" font-size="13.0" text-anchor="end">2</text><text transform="translate(509.05 307.20) scale(1.000 1.110)" font-size="13.0" text-anchor="end">0</text><text transform="translate(509.05 348.55) scale(1.000 1.110)" font-size="13.0" text-anchor="end"><tspan dy="1.1">−</tspan><tspan dy="-1.1">2</tspan></text><text transform="translate(597.40 406.60) scale(1.000 1.070)" font-size="17.3" text-anchor="middle">Time (hr)</text><text transform="translate(485.50 302.12) rotate(-90) scale(1.000 1.070)" font-size="17.3" text-anchor="middle">Amplitude (cm)</text><text x="527.7" y="263.6" font-size="18.0">SERA</text><text x="475.5" y="225.3" font-size="22">f)</text></g>
<g><clipPath id="cg"><rect x="65.3" y="445.42" width="155.1" height="124"/></clipPath><path clip-path="url(#cg)" d="M65.3 538.6 L65.7 538.6 L67.1 536.4 L68.1 530.6 L69.3 515.9 L70.3 513 L72 520.3 L73 515.9 L74 508.6 L75.5 499.8 L76.6 489.6 L77.8 485.9 L78.8 488.8 L79.9 491.8 L81 477.9 L82.2 471.3 L83.2 477.1 L84.3 483.7 L85.4 485.9 L86.6 488.1 L87.6 498.4 L88.6 502.8 L89.8 494 L91.3 504.2 L92.5 521.8 L93 532 L94.2 534.3 L95.4 537.9 L96.4 543.8 L97.4 530.6 L98.6 515.9 L99.8 508.6 L100.8 513 L101.5 516.3 L103.3 513 L105.2 520.3 L106.3 513.6 L107.4 513.8 L108.5 516.4 L110.8 490.8 L112 480 L113.1 484 L114.2 490.2 L115.4 489.6 L117.6 503.3 L118.8 504.4 L119.9 503.9 L121.1 507.9 L122.2 510.7 L123.3 504.4 L124.5 498.8 L125.6 499.9 L129 506.7 L130.8 513.6 L132.5 519.8 L134.2 518.1 L135.9 512.4 L137 514.3 L138.7 519.2 L141 509 L142.5 513.3 L144.4 518.1 L146.1 515.8 L147.8 513 L149.5 506.7 L151.2 497.6 L152.9 497 L154.7 495.9 L155.8 493.1 L156.8 491 L158 492.9 L159.3 494.1 L161.1 493.7 L162.9 495.3 L164.8 500.8 L166.6 510.5 L168.4 516 L169.9 519.1 L171.5 520.3 L172.7 521.5 L173.9 527.6 L175.1 533.7 L176.7 531.3 L178.8 526.4 L180 513 L181.3 503.3 L182.5 500.8 L184.3 496.5 L186.1 498.3 L188 500.2 L189.2 494.7 L190.4 490.4 L191.6 489.8 L192.8 488.6 L194.1 488 L195.3 489.8 L197.1 495.9 L199 500.8 L199.9 510.5 L200.8 521.5 L202.6 528.8 L204.1 526.4 L205.7 519.1 L206.9 514.2 L208.7 516.6 L210.5 522.7 L211.8 525.2 L213.4 519.1 L215.1 513 L216.7 518.5 L217.9 508.1 L219.1 499.6 L220 498.8" fill="none" stroke="#000" stroke-width="1.3" stroke-linejoin="round"/><path clip-path="url(#cg)" d="M65.3 507.5C76.4 507.5 87.5 507.5 98.6 507.5C99.33 507.5 100.07 519.6 100.8 519.6C100.97 519.6 101.13 519.6 101.3 519.3C102.3 517.5 103.3 497.3 104.3 497.3C105.23 497.3 106.17 507.9 107.1 507.9C107.6 507.9 108.1 500.47 108.6 498.4C109.13 496.19 109.67 495.3 110.2 495.3C111.27 495.3 112.33 513.51 113.4 517C113.77 518.2 114.13 518.2 114.5 518.2C115.27 518.2 116.03 509.81 116.8 507.8C117.07 507.1 117.33 507.1 117.6 507.1C118.1 507.1 118.6 511.7 119.1 511.7C120.07 511.7 121.03 497.1 122 497.1C122.97 497.1 123.93 519.8 124.9 519.8C125.9 519.8 126.9 497.6 127.9 497.6C128.87 497.6 129.83 518.1 130.8 518.1C131.93 518.1 133.07 497.6 134.2 497.6C135.13 497.6 136.07 510.7 137 510.7C137.97 510.7 138.93 506.85 139.9 505.6C140.83 504.4 141.77 503.3 142.7 503.3C143.47 503.3 144.23 503.3 145 503.3C146.23 503.3 147.47 523.8 148.7 523.8C149.73 523.8 150.77 502.2 151.8 502.2C152.57 502.2 153.33 502.2 154.1 502.2C154.67 502.2 155.23 495.3 155.8 495.3C156.33 495.3 156.87 506.03 157.4 509.3C158.03 513.19 158.67 516 159.3 516C160.1 516 160.9 494.7 161.7 494.7C162.73 494.7 163.77 507.33 164.8 515.5C165.4 520.25 166 531.9 166.6 531.9C167.7 531.9 168.8 484.9 169.9 484.9C170.83 484.9 171.77 501.4 172.7 501.4C173.23 501.4 173.77 501.4 174.3 501.4C174.8 501.4 175.3 511 175.8 516.6C176.2 521.08 176.6 531.3 177 531.3C178 531.3 179 485.5 180 485.5C180.83 485.5 181.67 536.2 182.5 536.2C183.5 536.2 184.5 489.8 185.5 489.8C186.73 489.8 187.97 507.95 189.2 516.6C189.8 520.81 190.4 528.8 191 528.8C191.93 528.8 192.87 479.4 193.8 479.4C194.9 479.4 196 518.5 197.1 518.5C197.7 518.5 198.3 505.7 198.9 505.7C199.73 505.7 200.57 507.5 201.4 507.5C202 507.5 202.6 507.5 203.2 507.5C203.83 507.5 204.47 517.9 205.1 517.9C206.23 517.9 207.37 497.1 208.5 497.1C209.6 497.1 210.7 517.9 211.8 517.9C212.33 517.9 212.87 517.9 213.4 517.3C214.7 515.84 216 500.17 217.3 491.6" fill="none" stroke="#e31a1c" stroke-width="1.35" stroke-linejoin="round"/><path d="M65.3 445.42V439.92M65.3 569.42V574.92M104.08 445.42V439.92M104.08 569.42V574.92M142.85 445.42V439.92M142.85 569.42V574.92M181.62 445.42V439.92M181.62 569.42V574.92M220.4 445.42V439.92M220.4 569.42V574.92M65.3 548.83H59.8M220.4 548.83H225.9M65.3 507.5H59.8M220.4 507.5H225.9M65.3 466.17H59.8M220.4 466.17H225.9" stroke="#000" stroke-width="0.75" fill="none"/><rect x="65.3" y="445.42" width="155.1" height="124" fill="none" stroke="#000" stroke-width="1.7"/><text transform="translate(65.30 590.47) scale(1.000 1.110)" font-size="13.0" text-anchor="middle">0.0</text><text transform="translate(104.08 590.47) scale(1.000 1.110)" font-size="13.0" text-anchor="middle">0.5</text><text transform="translate(142.85 590.47) scale(1.000 1.110)" font-size="13.0" text-anchor="middle">1.0</text><text transform="translate(181.62 590.47) scale(1.000 1.110)" font-size="13.0" text-anchor="middle">1.5</text><text transform="translate(220.40 590.47) scale(1.000 1.110)" font-size="13.0" text-anchor="middle">2.0</text><text transform="translate(54.45 471.17) scale(1.000 1.110)" font-size="13.0" text-anchor="end">2</text><text transform="translate(54.45 512.50) scale(1.000 1.110)" font-size="13.0" text-anchor="end">0</text><text transform="translate(54.45 553.83) scale(1.000 1.110)" font-size="13.0" text-anchor="end"><tspan dy="1.1">−</tspan><tspan dy="-1.1">2</tspan></text><text transform="translate(142.85 611.87) scale(1.000 1.070)" font-size="17.3" text-anchor="middle">Time (hr)</text><text transform="translate(30.90 507.42) rotate(-90) scale(1.000 1.070)" font-size="17.3" text-anchor="middle">Amplitude (cm)</text><text x="73.1" y="468.92" font-size="18.0">BINU</text><text x="-0.5" y="430.8" font-size="22">g)</text></g>
<g><clipPath id="ch"><rect x="292.3" y="445.42" width="155.5" height="124"/></clipPath><path clip-path="url(#ch)" d="M292.34 503.99 L292.92 503.41 L294.09 502.83 L295.26 502.24 L296.07 506.33 L297.01 509.83 L297.94 511.58 L298.76 508.08 L299.34 504.58 L300.28 503.41 L301.09 508.66 L301.91 509.25 L302.85 505.16 L304.01 499.91 L305.18 501.66 L306.35 505.16 L307.28 499.32 L308.1 496.4 L309.27 498.74 L310.09 503.41 L311.02 506.91 L312.19 508.66 L313.36 511.58 L314.53 517.42 L315.46 512.17 L316.28 502.83 L317.09 499.91 L318.03 501.07 L319.2 503.41 L320.36 502.83 L320.95 505.16 L321.53 506.91 L322.47 509.83 L323.87 514.5 L325.04 515.09 L326.2 516.84 L327.37 520.34 L328.54 519.76 L329.71 514.5 L330.88 508.08 L332.04 502.24 L333.21 499.91 L334.38 501.07 L335.55 506.33 L336.72 511 L337.88 513.34 L338.82 509.25 L339.64 502.83 L340.45 499.91 L341.39 501.66 L342.32 506.91 L343.14 510.42 L343.96 508.08 L344.89 501.66 L346.06 498.74 L347.81 497.57 L349.33 498.74 L350.5 502.83 L351.66 508.66 L352.83 508.9 L354 506.91 L355.17 505.16 L356.34 503.99 L357.5 509.83 L358.67 518.59 L359.84 520.93 L360.66 517.42 L361.82 515.09 L362.99 515.44 L364.16 513.34 L365.68 511 L367.08 507.5 L368.48 504.58 L368 503.99 L369.17 505.16 L370.34 509.25 L371.5 511.58 L372.67 506.33 L374.07 506.1 L375.24 506.91 L376.18 498.74 L377.58 491.73 L378.74 498.15 L379.91 505.16 L381.43 502.83 L382.6 505.16 L384.35 510.42 L385.52 503.41 L386.69 497.57 L388.09 495.82 L389.61 496.99 L390.77 505.16 L391.94 516.84 L393.11 522.68 L394.86 524.43 L396.26 523.26 L397.2 516.84 L398.36 502.83 L399.53 505.16 L400.7 509.25 L401.87 508.66 L403.04 509.25 L404.79 514.5 L405.96 520.34 L407.47 525.02 L408.64 516.84 L409.81 500.49 L410.98 493.48 L412.15 492.31 L413.31 493.48 L414.48 491.15 L415.65 489.98 L416.82 498.15 L417.99 505.16 L419.15 496.99 L420.55 488.81 L421.96 493.48 L423.12 499.91 L424.29 507.5 L425.46 513.34 L426.98 516.84 L428.15 521.51 L429.31 526.18 L430.48 520.34 L432 512.17 L433.17 513.34 L434.57 520.34 L435.74 523.26 L437.14 519.76 L438.31 516.84 L439.82 514.5 L440.99 512.17 L442.16 498.15 L443.33 495.82 L444.5 492.9 L445.66 489.39 L446.83 485.31 L448.58 482.97" fill="none" stroke="#000" stroke-width="1.3" stroke-linejoin="round"/><path clip-path="url(#ch)" d="M292.3 507.5 L370.92 507.5 L372.09 509.6 L375.01 509.6 L375.94 505.75 L378.74 505.75 L379.45 507.5 L434.57 507.5 L435.97 499.32 L438.07 499.32 L439.47 506.33 L441.34 508.66 L442.51 513.34 L444.15 513.92" fill="none" stroke="#e31a1c" stroke-width="1.35" stroke-linejoin="round"/><path d="M292.3 445.42V439.92M292.3 569.42V574.92M331.18 445.42V439.92M331.18 569.42V574.92M370.05 445.42V439.92M370.05 569.42V574.92M408.93 445.42V439.92M408.93 569.42V574.92M447.8 445.42V439.92M447.8 569.42V574.92M292.3 548.83H286.8M447.8 548.83H453.3M292.3 507.5H286.8M447.8 507.5H453.3M292.3 466.17H286.8M447.8 466.17H453.3" stroke="#000" stroke-width="0.75" fill="none"/><rect x="292.3" y="445.42" width="155.5" height="124" fill="none" stroke="#000" stroke-width="1.7"/><text transform="translate(292.30 590.47) scale(1.000 1.110)" font-size="13.0" text-anchor="middle">0.0</text><text transform="translate(331.18 590.47) scale(1.000 1.110)" font-size="13.0" text-anchor="middle">0.5</text><text transform="translate(370.05 590.47) scale(1.000 1.110)" font-size="13.0" text-anchor="middle">1.0</text><text transform="translate(408.93 590.47) scale(1.000 1.110)" font-size="13.0" text-anchor="middle">1.5</text><text transform="translate(447.80 590.47) scale(1.000 1.110)" font-size="13.0" text-anchor="middle">2.0</text><text transform="translate(281.45 471.17) scale(1.000 1.110)" font-size="13.0" text-anchor="end">2</text><text transform="translate(281.45 512.50) scale(1.000 1.110)" font-size="13.0" text-anchor="end">0</text><text transform="translate(281.45 553.83) scale(1.000 1.110)" font-size="13.0" text-anchor="end"><tspan dy="1.1">−</tspan><tspan dy="-1.1">2</tspan></text><text transform="translate(370.05 611.87) scale(1.000 1.070)" font-size="17.3" text-anchor="middle">Time (hr)</text><text transform="translate(257.90 507.42) rotate(-90) scale(1.000 1.070)" font-size="17.3" text-anchor="middle">Amplitude (cm)</text><text x="300.1" y="468.92" font-size="18.0">PRTU</text><text x="241.7" y="430.8" font-size="22">h)</text></g>
</g></svg></body></html>
